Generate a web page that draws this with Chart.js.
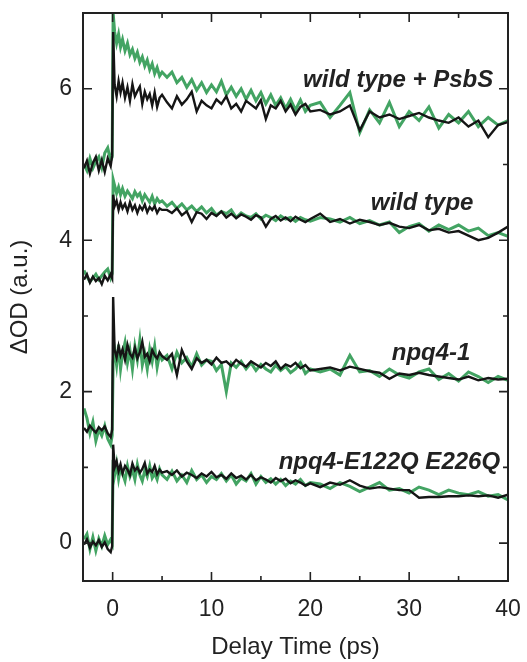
<!DOCTYPE html>
<html lang="en">
<head>
    <meta charset="UTF-8">
    <title>Transient absorption kinetics</title>
    <script src="https://cdn.jsdelivr.net/npm/chart.js"></script>
    <style>
        body { margin: 0; background: #fff; }
    </style>
</head>
<body>
    <canvas id="kineticsChart" width="527" height="662"></canvas>

    <script>
        // delay time (ps), shared by every trace
        const delay = [-2.9, -2.6, -2.3, -2.0, -1.7, -1.4, -1.1, -0.8, -0.5, -0.2, -0.05,
            0.05, 0.2, 0.4, 0.6, 0.8, 1.0, 1.25, 1.5, 1.75, 2.0, 2.25, 2.5, 2.75, 3.0, 3.25, 3.5, 3.75, 4.0, 4.25, 4.5, 4.75, 5.0,
            5.5, 6, 6.5, 7, 7.5, 8, 8.5, 9, 9.5, 10, 10.5, 11, 11.5, 12, 12.5, 13, 13.5, 14, 14.5, 15, 15.5, 16, 16.5, 17, 17.5, 18, 18.5, 19, 19.5, 20,
            21, 22, 23, 24, 25, 26, 27, 28, 29, 30, 31, 32, 33, 34, 35, 36, 37, 38, 39, 40];

        // wild type + PsbS
        const psbsBlack = [4.95, 5.05, 4.88, 5.02, 5.1, 4.92, 5.06, 4.9, 5.08, 4.98, 5.12,
            6.75, 6.05, 5.9, 6.1, 5.95, 6.08, 5.88, 6.02, 5.84, 6.06, 5.9, 5.97, 6.03, 5.8, 5.96, 5.86, 5.93, 5.78, 5.95, 5.76, 5.88, 5.92,
            5.82, 5.74, 5.9, 5.79, 5.86, 5.96, 5.7, 5.84, 5.78, 5.74, 5.86, 5.8, 5.9, 5.74, 5.8, 5.7, 5.84, 5.79, 5.74, 5.85, 5.6, 5.78, 5.74, 5.84, 5.7, 5.79, 5.66, 5.76, 5.8, 5.7,
            5.72, 5.66, 5.7, 5.78, 5.45, 5.7, 5.62, 5.66, 5.6, 5.64, 5.68, 5.62, 5.58, 5.55, 5.62, 5.5, 5.58, 5.36, 5.52, 5.56];
        const psbsGreen = [5.0, 4.92, 5.08, 4.95, 5.04, 5.1, 4.96, 5.15, 5.22, 5.05, 5.1,
            7.0, 6.75, 6.6, 6.72, 6.55, 6.65, 6.5, 6.6, 6.45, 6.52, 6.4, 6.48, 6.35, 6.42, 6.3, 6.38, 6.25, 6.33, 6.2, 6.28, 6.17, 6.22,
            6.15, 6.22, 6.08, 6.15, 6.02, 6.12, 5.98, 6.08, 5.95, 6.05, 5.96, 6.1, 5.92, 6.02, 5.9, 6.0, 5.86, 5.98, 5.84, 5.95, 5.8, 5.92, 5.78, 5.88, 5.74, 5.86, 5.72, 5.85, 5.7, 5.78,
            5.82, 5.62, 5.78, 5.95, 5.42, 5.72, 5.55, 5.82, 5.5, 5.7, 5.58, 5.76, 5.48, 5.66, 5.55, 5.7, 5.5, 5.62, 5.52, 5.58];

        // wild type
        const wtBlack = [3.48, 3.55, 3.44, 3.52, 3.46, 3.5, 3.42, 3.53, 3.47, 3.55, 3.5,
            4.6, 4.45, 4.52, 4.4, 4.5, 4.42, 4.48, 4.38, 4.5, 4.4, 4.46, 4.36, 4.45, 4.4, 4.47, 4.37, 4.44, 4.4, 4.45, 4.36, 4.42, 4.4,
            4.4, 4.36, 4.42, 4.33, 4.38, 4.24, 4.37, 4.35, 4.28, 4.36, 4.32, 4.38, 4.3, 4.35, 4.29, 4.34, 4.31, 4.27, 4.33, 4.3, 4.18, 4.28, 4.32, 4.26, 4.3, 4.25, 4.31, 4.27, 4.24, 4.28,
            4.35, 4.24, 4.28, 4.22, 4.27, 4.24, 4.2, 4.23, 4.18, 4.16, 4.2, 4.13, 4.15, 4.1, 4.12, 4.06, 4.0, 4.03, 4.1, 4.18];
        const wtGreen = [3.6, 3.52, 3.45, 3.5, 3.55, 3.48, 3.53, 3.58, 3.62, 3.5, 3.56,
            4.8, 4.72, 4.62, 4.7, 4.6, 4.68, 4.58, 4.65, 4.6, 4.55, 4.64, 4.58, 4.62, 4.52, 4.6, 4.55, 4.5, 4.58, 4.48, 4.55, 4.5, 4.52,
            4.45, 4.5, 4.42, 4.48, 4.4, 4.45, 4.38, 4.44, 4.36, 4.42, 4.33, 4.38, 4.35, 4.4, 4.3, 4.36, 4.32, 4.3, 4.35, 4.28, 4.33, 4.3, 4.26, 4.32, 4.28, 4.3, 4.25, 4.3, 4.27, 4.25,
            4.3, 4.28, 4.24, 4.3, 4.22, 4.26, 4.2, 4.24, 4.1, 4.18, 4.22, 4.12, 4.2, 4.14, 4.2, 4.12, 4.16, 4.06, 4.1, 4.05];

        // npq4-1
        const npqBlack = [1.52, 1.47, 1.55, 1.5, 1.46, 1.53, 1.49, 1.54, 1.45, 1.4, 1.5,
            3.25, 2.55, 2.45, 2.6, 2.48, 2.56, 2.42, 2.62, 2.5, 2.45, 2.58, 2.44, 2.52, 2.66, 2.46, 2.5, 2.4, 2.55, 2.48, 2.44, 2.52, 2.47,
            2.42, 2.5, 2.22, 2.55, 2.4, 2.3, 2.44, 2.38, 2.42, 2.36, 2.45, 2.38, 2.4, 2.34, 2.42, 2.37, 2.33, 2.4, 2.36, 2.32, 2.38, 2.34, 2.4, 2.3, 2.36, 2.33, 2.38, 2.31, 2.35, 2.28,
            2.3, 2.32, 2.28, 2.33, 2.3, 2.27, 2.25, 2.17, 2.24, 2.22, 2.25, 2.22, 2.2, 2.18, 2.16, 2.2, 2.15, 2.18, 2.16, 2.17];
        const npqGreen = [1.78, 1.65, 1.45, 1.6, 1.35, 1.5, 1.42, 1.55, 1.38, 1.3, 1.42,
            2.4, 2.55, 2.35, 2.62, 2.3, 2.5, 2.65, 2.38, 2.55, 2.3, 2.6, 2.42, 2.68, 2.35, 2.5, 2.3, 2.56, 2.4, 2.6, 2.32, 2.5, 2.42,
            2.48, 2.3, 2.52, 2.38, 2.45, 2.33, 2.5, 2.35, 2.42, 2.4, 2.28, 2.36, 2.0, 2.38, 2.32, 2.4, 2.3, 2.38, 2.28, 2.36, 2.3, 2.26, 2.35, 2.28, 2.33, 2.25, 2.3, 2.38, 2.24, 2.3,
            2.26, 2.3, 2.22, 2.48, 2.26, 2.28, 2.2, 2.3, 2.22, 2.18, 2.26, 2.3, 2.16, 2.24, 2.14, 2.26, 2.2, 2.12, 2.2, 2.15];

        // npq4-E122Q E226Q
        const mutBlack = [-0.02, 0.05, -0.06, 0.02, -0.03, 0.04, -0.05, 0.01, -0.08, -0.12, -0.04,
            1.3, 1.0, 1.08, 0.95, 1.04, 0.92, 1.02, 0.97, 0.9, 1.05, 0.96, 1.0, 0.93, 0.98, 1.06, 0.92, 0.97, 0.94, 1.02, 0.91, 0.97, 0.93,
            0.95, 0.9, 0.96, 0.88, 0.93, 0.9, 0.86, 0.92, 0.88, 0.94, 0.87, 0.9, 0.85, 0.92, 0.86, 0.89, 0.84, 0.9, 0.83, 0.87, 0.84, 0.8, 0.86, 0.82, 0.85, 0.79, 0.83, 0.8, 0.76, 0.79,
            0.74, 0.8, 0.77, 0.83, 0.76, 0.72, 0.74, 0.72, 0.7, 0.7, 0.6, 0.61, 0.61, 0.62, 0.62, 0.63, 0.62, 0.63, 0.6, 0.64];
        const mutGreen = [0.05, 0.12, -0.08, 0.08, -0.1, 0.06, -0.04, 0.1, -0.02, 0.05, 0.0,
            1.1, 0.9, 1.05, 0.85, 1.0, 0.92, 0.82, 1.02, 0.88, 0.97, 0.84, 1.04, 0.9, 0.82, 0.96, 0.88, 1.02, 0.86, 0.92, 0.84, 0.98, 0.9,
            0.84, 0.95, 0.82, 0.9, 0.8, 0.96, 0.84, 0.9, 0.8, 0.88, 0.84, 0.92, 0.82, 0.9, 0.78, 0.86, 0.82, 0.92, 0.78, 0.88, 0.8, 0.85, 0.78, 0.84, 0.76, 0.82, 0.78, 0.84, 0.76, 0.8,
            0.78, 0.72, 0.8, 0.75, 0.68, 0.74, 0.8, 0.7, 0.72, 0.66, 0.74, 0.7, 0.64, 0.7, 0.66, 0.64, 0.68, 0.62, 0.64, 0.57];

        // trace labels, anchored (right edge) in data units
        const traceNames = ['wild type + PsbS', 'wild type', 'npq4-1', 'npq4-E122Q E226Q'];
        const nameX = [38.5, 36.5, 36.2, 39.2];
        const nameY = [6.11, 4.49, 2.51, 1.06];

        const xMajor = [0, 10, 20, 30, 40];
        const xMinor = [5, 15, 25, 35];
        const yMajor = [0, 2, 4, 6];
        const yMinor = [1, 3, 5];

        const GREEN = '#43a463';
        const BLACK = '#151515';
        const INK = '#222';
        const FONT = '"Liberation Sans", Arial, sans-serif';

        function pts(ys) {
            return delay.map((x, i) => ({ x: x, y: ys[i] }));
        }

        function trace(ys, color, width, order) {
            return {
                data: pts(ys),
                borderColor: color,
                borderWidth: width,
                pointRadius: 0,
                tension: 0,
                order: order
            };
        }

        // frame with inward ticks on all four sides, plus the trace names
        const framePlugin = {
            id: 'frame',
            afterDraw(chart) {
                const c = chart.ctx;
                const a = chart.chartArea;
                const xs = chart.scales.x, ys = chart.scales.y;
                c.save();
                c.strokeStyle = INK;
                c.lineWidth = 2;
                c.strokeRect(a.left, a.top, a.right - a.left, a.bottom - a.top);
                c.lineWidth = 1.6;
                c.beginPath();
                const xt = (v, len) => {
                    const px = xs.getPixelForValue(v);
                    c.moveTo(px, a.bottom); c.lineTo(px, a.bottom - len);
                    c.moveTo(px, a.top); c.lineTo(px, a.top + len);
                };
                const yt = (v, len) => {
                    const py = ys.getPixelForValue(v);
                    c.moveTo(a.left, py); c.lineTo(a.left + len, py);
                    c.moveTo(a.right, py); c.lineTo(a.right - len, py);
                };
                xMajor.forEach(v => xt(v, 9));
                xMinor.forEach(v => xt(v, 5));
                yMajor.forEach(v => yt(v, 9));
                yMinor.forEach(v => yt(v, 5));
                c.stroke();

                c.fillStyle = INK;
                c.font = 'italic bold 24px ' + FONT;
                c.textAlign = 'right';
                c.textBaseline = 'middle';
                traceNames.forEach((t, i) => {
                    c.fillText(t, xs.getPixelForValue(nameX[i]), ys.getPixelForValue(nameY[i]));
                });
                c.restore();
            }
        };

        new Chart(document.getElementById('kineticsChart'), {
            type: 'line',
            data: {
                datasets: [
                    trace(psbsGreen, GREEN, 3, 2),
                    trace(wtGreen, GREEN, 3, 2),
                    trace(npqGreen, GREEN, 3, 2),
                    trace(mutGreen, GREEN, 3, 2),
                    trace(psbsBlack, BLACK, 2.4, 1),
                    trace(wtBlack, BLACK, 2.4, 1),
                    trace(npqBlack, BLACK, 2.4, 1),
                    trace(mutBlack, BLACK, 2.4, 1)
                ]
            },
            options: {
                responsive: false,
                animation: false,
                layout: { padding: { top: 13, right: 19, left: 0, bottom: 0 } },
                plugins: {
                    legend: { display: false },
                    tooltip: { enabled: false }
                },
                scales: {
                    x: {
                        type: 'linear',
                        min: -3,
                        max: 40,
                        afterBuildTicks: s => { s.ticks = xMajor.map(v => ({ value: v })); },
                        afterFit: s => { s.height = 81; s.paddingLeft = 0; s.paddingRight = 0; },
                        grid: { display: false, drawTicks: false },
                        border: { display: false },
                        ticks: {
                            color: INK,
                            padding: 15,
                            maxRotation: 0,
                            font: { family: FONT, size: 23 }
                        },
                        title: {
                            display: true,
                            text: 'Delay Time (ps)',
                            color: INK,
                            padding: { top: 0, bottom: 0 },
                            font: { family: FONT, size: 24 }
                        }
                    },
                    y: {
                        min: -0.5,
                        max: 7,
                        afterBuildTicks: s => { s.ticks = yMajor.map(v => ({ value: v })); },
                        afterFit: s => { s.width = 83; s.paddingTop = 0; s.paddingBottom = 0; },
                        grid: { display: false, drawTicks: false },
                        border: { display: false },
                        ticks: {
                            color: INK,
                            padding: 11,
                            font: { family: FONT, size: 23 }
                        },
                        title: {
                            display: true,
                            text: 'ΔOD (a.u.)',
                            color: INK,
                            padding: { top: 6, bottom: 0 },
                            font: { family: FONT, size: 24 }
                        }
                    }
                }
            },
            plugins: [framePlugin]
        });
    </script>
</body>
</html>
